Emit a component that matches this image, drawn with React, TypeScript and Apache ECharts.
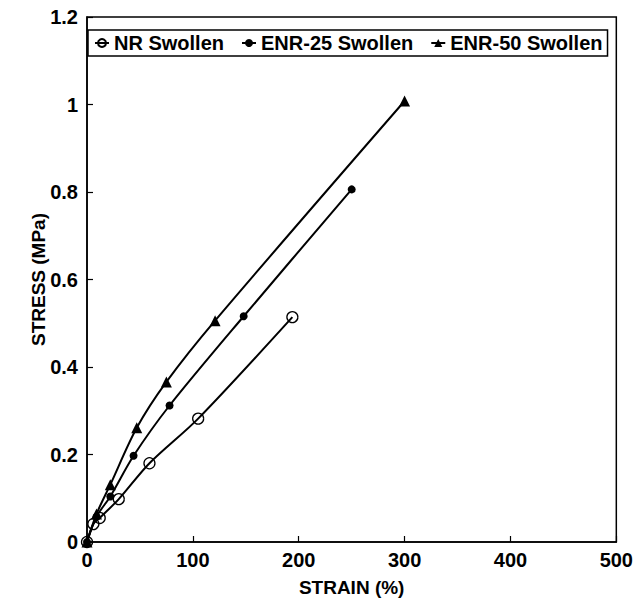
import React, { useEffect, useRef } from "react";
import * as echarts from "echarts";

const xTicks = [0, 100, 200, 300, 400, 500];
const yTicks = [0, 0.2, 0.4, 0.6, 0.8, 1, 1.2];

const nrStrain = [0, 6, 12, 30, 59, 105, 194];
const nrStress = [0, 0.041, 0.055, 0.098, 0.18, 0.282, 0.514];

const enr25Strain = [0, 9, 22, 44, 78, 148, 250];
const enr25Stress = [0, 0.058, 0.104, 0.197, 0.312, 0.516, 0.806];

const enr50Strain = [0, 9, 22, 47, 75, 121, 300];
const enr50Stress = [0, 0.064, 0.131, 0.261, 0.366, 0.506, 1.008];

const seriesNames = ["NR Swollen", "ENR-25 Swollen", "ENR-50 Swollen"];

const zip = (xs: number[], ys: number[]) => xs.map((x, i) => [x, ys[i]]);

const FONT = "Liberation Sans";
const WEIGHT = "bold";

export default function App() {
  const ref = useRef<HTMLDivElement>(null);
  useEffect(() => {
    if (!ref.current) return;
    const chart = echarts.init(ref.current, null, { renderer: "svg" });
    const baseSeries = {
      type: "line" as const,
      smooth: 0.3,
      color: "#000",
      lineStyle: { color: "#000", width: 2 },
    };
    chart.setOption({
      animation: false,
      backgroundColor: "#fff",
      grid: {
        left: 87,
        right: 19,
        top: 17,
        bottom: 57,
        show: true,
        borderColor: "#000",
        borderWidth: 1.5,
      },
      legend: {
        left: 88,
        top: 30,
        orient: "horizontal",
        borderColor: "#000",
        borderWidth: 1.5,
        padding: [3, 5, 3, 6],
        itemGap: 17,
        itemWidth: 14,
        itemHeight: 10,
        textStyle: { fontFamily: FONT, fontSize: 20, fontWeight: WEIGHT, color: "#000" },
        data: seriesNames,
      },
      xAxis: {
        type: "value",
        min: xTicks[0],
        max: xTicks[xTicks.length - 1],
        interval: 100,
        name: "STRAIN (%)",
        nameLocation: "middle",
        nameGap: 36,
        nameMoveOverlap: false,
        nameTextStyle: { fontFamily: FONT, fontSize: 19, fontWeight: WEIGHT, color: "#000" },
        axisLine: { lineStyle: { color: "#000", width: 1.5 } },
        axisTick: { inside: true, length: 6, lineStyle: { color: "#000", width: 1.2 } },
        axisLabel: { fontFamily: FONT, fontSize: 20, fontWeight: WEIGHT, color: "#000", margin: 8 },
        splitLine: { show: false },
      },
      yAxis: {
        type: "value",
        min: yTicks[0],
        max: yTicks[yTicks.length - 1],
        interval: 0.2,
        name: "STRESS (MPa)",
        nameLocation: "middle",
        nameGap: 39,
        nameMoveOverlap: false,
        nameTextStyle: { fontFamily: FONT, fontSize: 19, fontWeight: WEIGHT, color: "#000" },
        axisLine: { lineStyle: { color: "#000", width: 1.5 } },
        axisTick: { inside: true, length: 6, lineStyle: { color: "#000", width: 1.2 } },
        axisLabel: { fontFamily: FONT, fontSize: 20, fontWeight: WEIGHT, color: "#000", margin: 9 },
        splitLine: { show: false },
      },
      series: [
        {
          ...baseSeries,
          name: seriesNames[0],
          symbol: "circle",
          symbolSize: 11,
          itemStyle: { color: "rgba(0,0,0,0)", borderColor: "#000", borderWidth: 1.3 },
          data: zip(nrStrain, nrStress),
        },
        {
          ...baseSeries,
          name: seriesNames[1],
          symbol: "circle",
          symbolSize: 8,
          itemStyle: { color: "#000" },
          data: zip(enr25Strain, enr25Stress),
        },
        {
          ...baseSeries,
          name: seriesNames[2],
          symbol: "triangle",
          symbolSize: 11,
          itemStyle: { color: "#000" },
          data: zip(enr50Strain, enr50Stress),
        },
      ],
    });
    return () => chart.dispose();
  }, []);
  return (
    <div
      ref={ref}
      style={{ position: "fixed", left: 0, top: 0, width: 636, height: 602 }}
    />
  );
}
